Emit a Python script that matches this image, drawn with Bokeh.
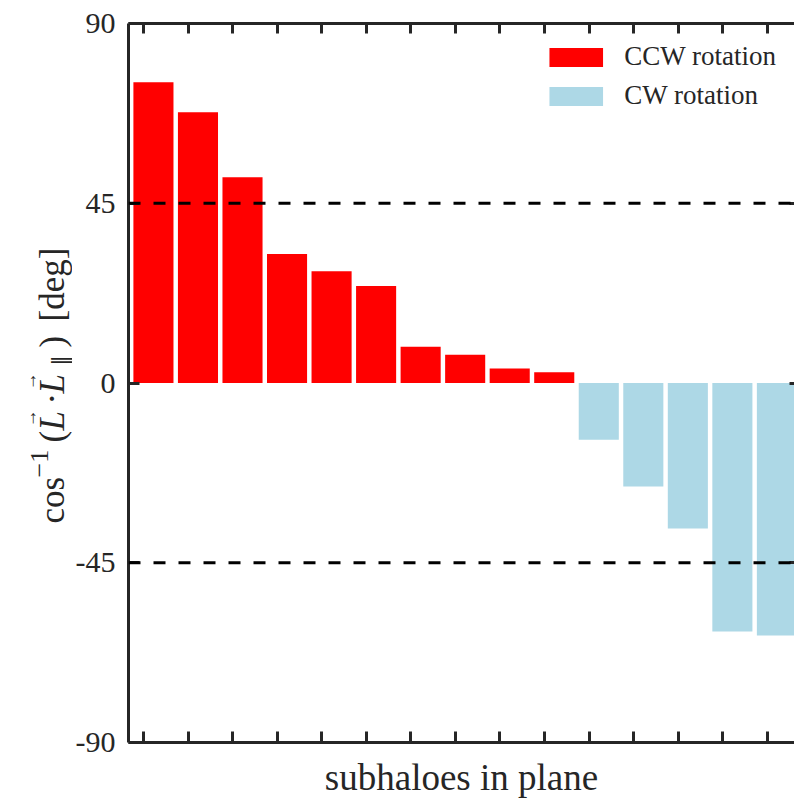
import math
from bokeh.plotting import figure
from bokeh.layouts import row
from bokeh.models import (Range1d, FixedTicker, LinearAxis, Span, Legend, LegendItem,
                          ColumnDataSource)
from bokeh.core.properties import value
from bokeh.embed import file_html
from bokeh.resources import INLINE

# ---- data ----
ccw_index = [1, 2, 3, 4, 5, 6, 7, 8, 9, 10]
ccw_angle = [75.3, 67.8, 51.5, 32.3, 28.0, 24.3, 9.1, 7.1, 3.6, 2.7]
cw_index = [11, 12, 13, 14, 15]
cw_angle = [-14.2, -25.9, -36.4, -62.2, -63.2]
y_ticks = [-90, -45, 0, 45, 90]
y_tick_labels = ["-90", "-45", "0", "45", "90"]
ref_lines = [45, -45]
series_names = ["CCW rotation", "CW rotation"]
x_title = "subhaloes in plane"

FONT = "'Liberation Serif', serif"
INK = "#262626"
H = 804
TW = 72          # width of the strip holding the y-axis title
Y0, Y1 = -90, 90
FT, FB = 23, 742  # frame top / bottom (px) of both panels

p = figure(width=794 - TW, height=H, output_backend="svg", toolbar_location=None,
           x_range=Range1d(0.44, 15.395), y_range=Range1d(Y0, Y1),
           x_axis_location=None, y_axis_location=None,
           min_border_left=127 - TW, min_border_right=0, min_border_top=FT,
           min_border_bottom=H - FB)
p.outline_line_color = None
p.xgrid.visible = False
p.ygrid.visible = False
p.background_fill_color = "white"
p.border_fill_color = "white"

src_ccw = ColumnDataSource(dict(x=ccw_index, top=ccw_angle))
src_cw = ColumnDataSource(dict(x=cw_index, top=cw_angle))
r_ccw = p.vbar(x="x", top="top", bottom=0, width=0.9, source=src_ccw,
               fill_color="#ff0000", line_color=None)
r_cw = p.vbar(x="x", top="top", bottom=0, width=0.9, source=src_cw,
              fill_color="#add8e6", line_color=None)

for v in ref_lines:
    p.add_layout(Span(location=v, dimension="width", line_color="black",
                      line_width=3, line_dash="12 13"))

n_bars = len(ccw_index) + len(cw_index)
x_tick_pos = [i + 1 - 0.218 for i in range(n_bars)]


def style_axis(ax):
    ax.axis_line_color = INK
    ax.axis_line_width = 3
    ax.major_tick_line_color = INK
    ax.major_tick_line_width = 3
    ax.major_tick_out = 0
    ax.minor_tick_line_color = None
    ax.major_label_text_font = FONT
    ax.major_label_text_color = INK
    ax.axis_label_text_font = FONT
    ax.axis_label_text_color = INK
    ax.axis_label_text_font_style = "normal"


def blank(ticks):
    return {t: "" for t in ticks}


left = LinearAxis(ticker=FixedTicker(ticks=y_ticks),
                  major_label_overrides={t: s for t, s in zip(y_ticks, y_tick_labels)})
style_axis(left)
left.major_tick_in = 11
left.major_label_text_font_size = "30px"
left.major_label_standoff = 13
p.add_layout(left, "left")

bottom = LinearAxis(ticker=FixedTicker(ticks=x_tick_pos), axis_label=x_title,
                    major_label_overrides=blank(x_tick_pos))
style_axis(bottom)
bottom.major_tick_in = 11
bottom.major_label_standoff = 0
bottom.axis_label_text_font_size = "37px"
bottom.axis_label_standoff = 14
p.add_layout(bottom, "below")

top = LinearAxis(ticker=FixedTicker(ticks=x_tick_pos), major_label_overrides=blank(x_tick_pos))
style_axis(top)
top.major_tick_in = 10
top.major_label_standoff = 0
p.add_layout(top, "above")

right = LinearAxis(ticker=FixedTicker(ticks=y_ticks), major_label_overrides=blank(y_ticks))
style_axis(right)
right.axis_line_color = None
right.major_tick_in = 5
right.major_label_standoff = 0
p.add_layout(right, "right")

legend = Legend(items=[LegendItem(label=series_names[0], renderers=[r_ccw]),
                       LegendItem(label=series_names[1], renderers=[r_cw])],
                location="top_right", border_line_color=None, background_fill_alpha=0,
                glyph_width=67, glyph_height=24, label_standoff=15,
                label_text_font=FONT, label_text_font_size="27px", label_text_color=INK,
                label_height=24, spacing=8, padding=0, margin=18)
p.add_layout(legend)

# ---- y-axis title strip: cos^-1(L·L∥) [deg] ----
t = figure(width=TW, height=H, output_backend="svg", toolbar_location=None,
           x_range=Range1d(0, TW), y_range=Range1d(Y0, Y1),
           x_axis_location=None, y_axis_location=None, title=None,
           min_border_left=0, min_border_right=0,
           min_border_top=FT, min_border_bottom=H - FB)
t.outline_line_color = None
t.xgrid.visible = False
t.ygrid.visible = False
t.background_fill_color = "white"
t.border_fill_color = "white"


def py_to_y(py):
    return Y1 - (py - FT) * (Y1 - Y0) / (FB - FT)


rot = math.pi / 2
base_x = 52
pieces = [
    # text, start y (px from top, text runs upward), size, style, baseline x
    ("cos", 523, 35, "normal", base_x),
    ("\u22121", 477, 26, "normal", base_x - 13),
    ("(", 442, 35, "normal", base_x),
    ("L", 430, 35, "italic", base_x),
    ("\u00b7", 404, 35, "normal", base_x),
    ("L", 393, 35, "italic", base_x),
    ("\u2225", 365, 22, "normal", base_x + 8),
    (")", 347, 35, "normal", base_x),
    ("[deg]", 321, 35, "normal", base_x),
]
for txt, y0, size, style, bx in pieces:
    t.text(x=[bx], y=[py_to_y(y0)], text=[txt], angle=rot, text_font=value(FONT),
           text_font_size=f"{size}px", text_font_style=style, text_color=INK,
           text_align="left", text_baseline="alphabetic")
for yc in (418, 381):
    t.text(x=[base_x - 23], y=[py_to_y(yc)], text=["\u2192"], angle=rot, text_font=value(FONT),
           text_font_size="18px", text_color=INK, text_align="center",
           text_baseline="middle")

layout = row(t, p, spacing=0)
open("out.html", "w").write(file_html(layout, INLINE))
